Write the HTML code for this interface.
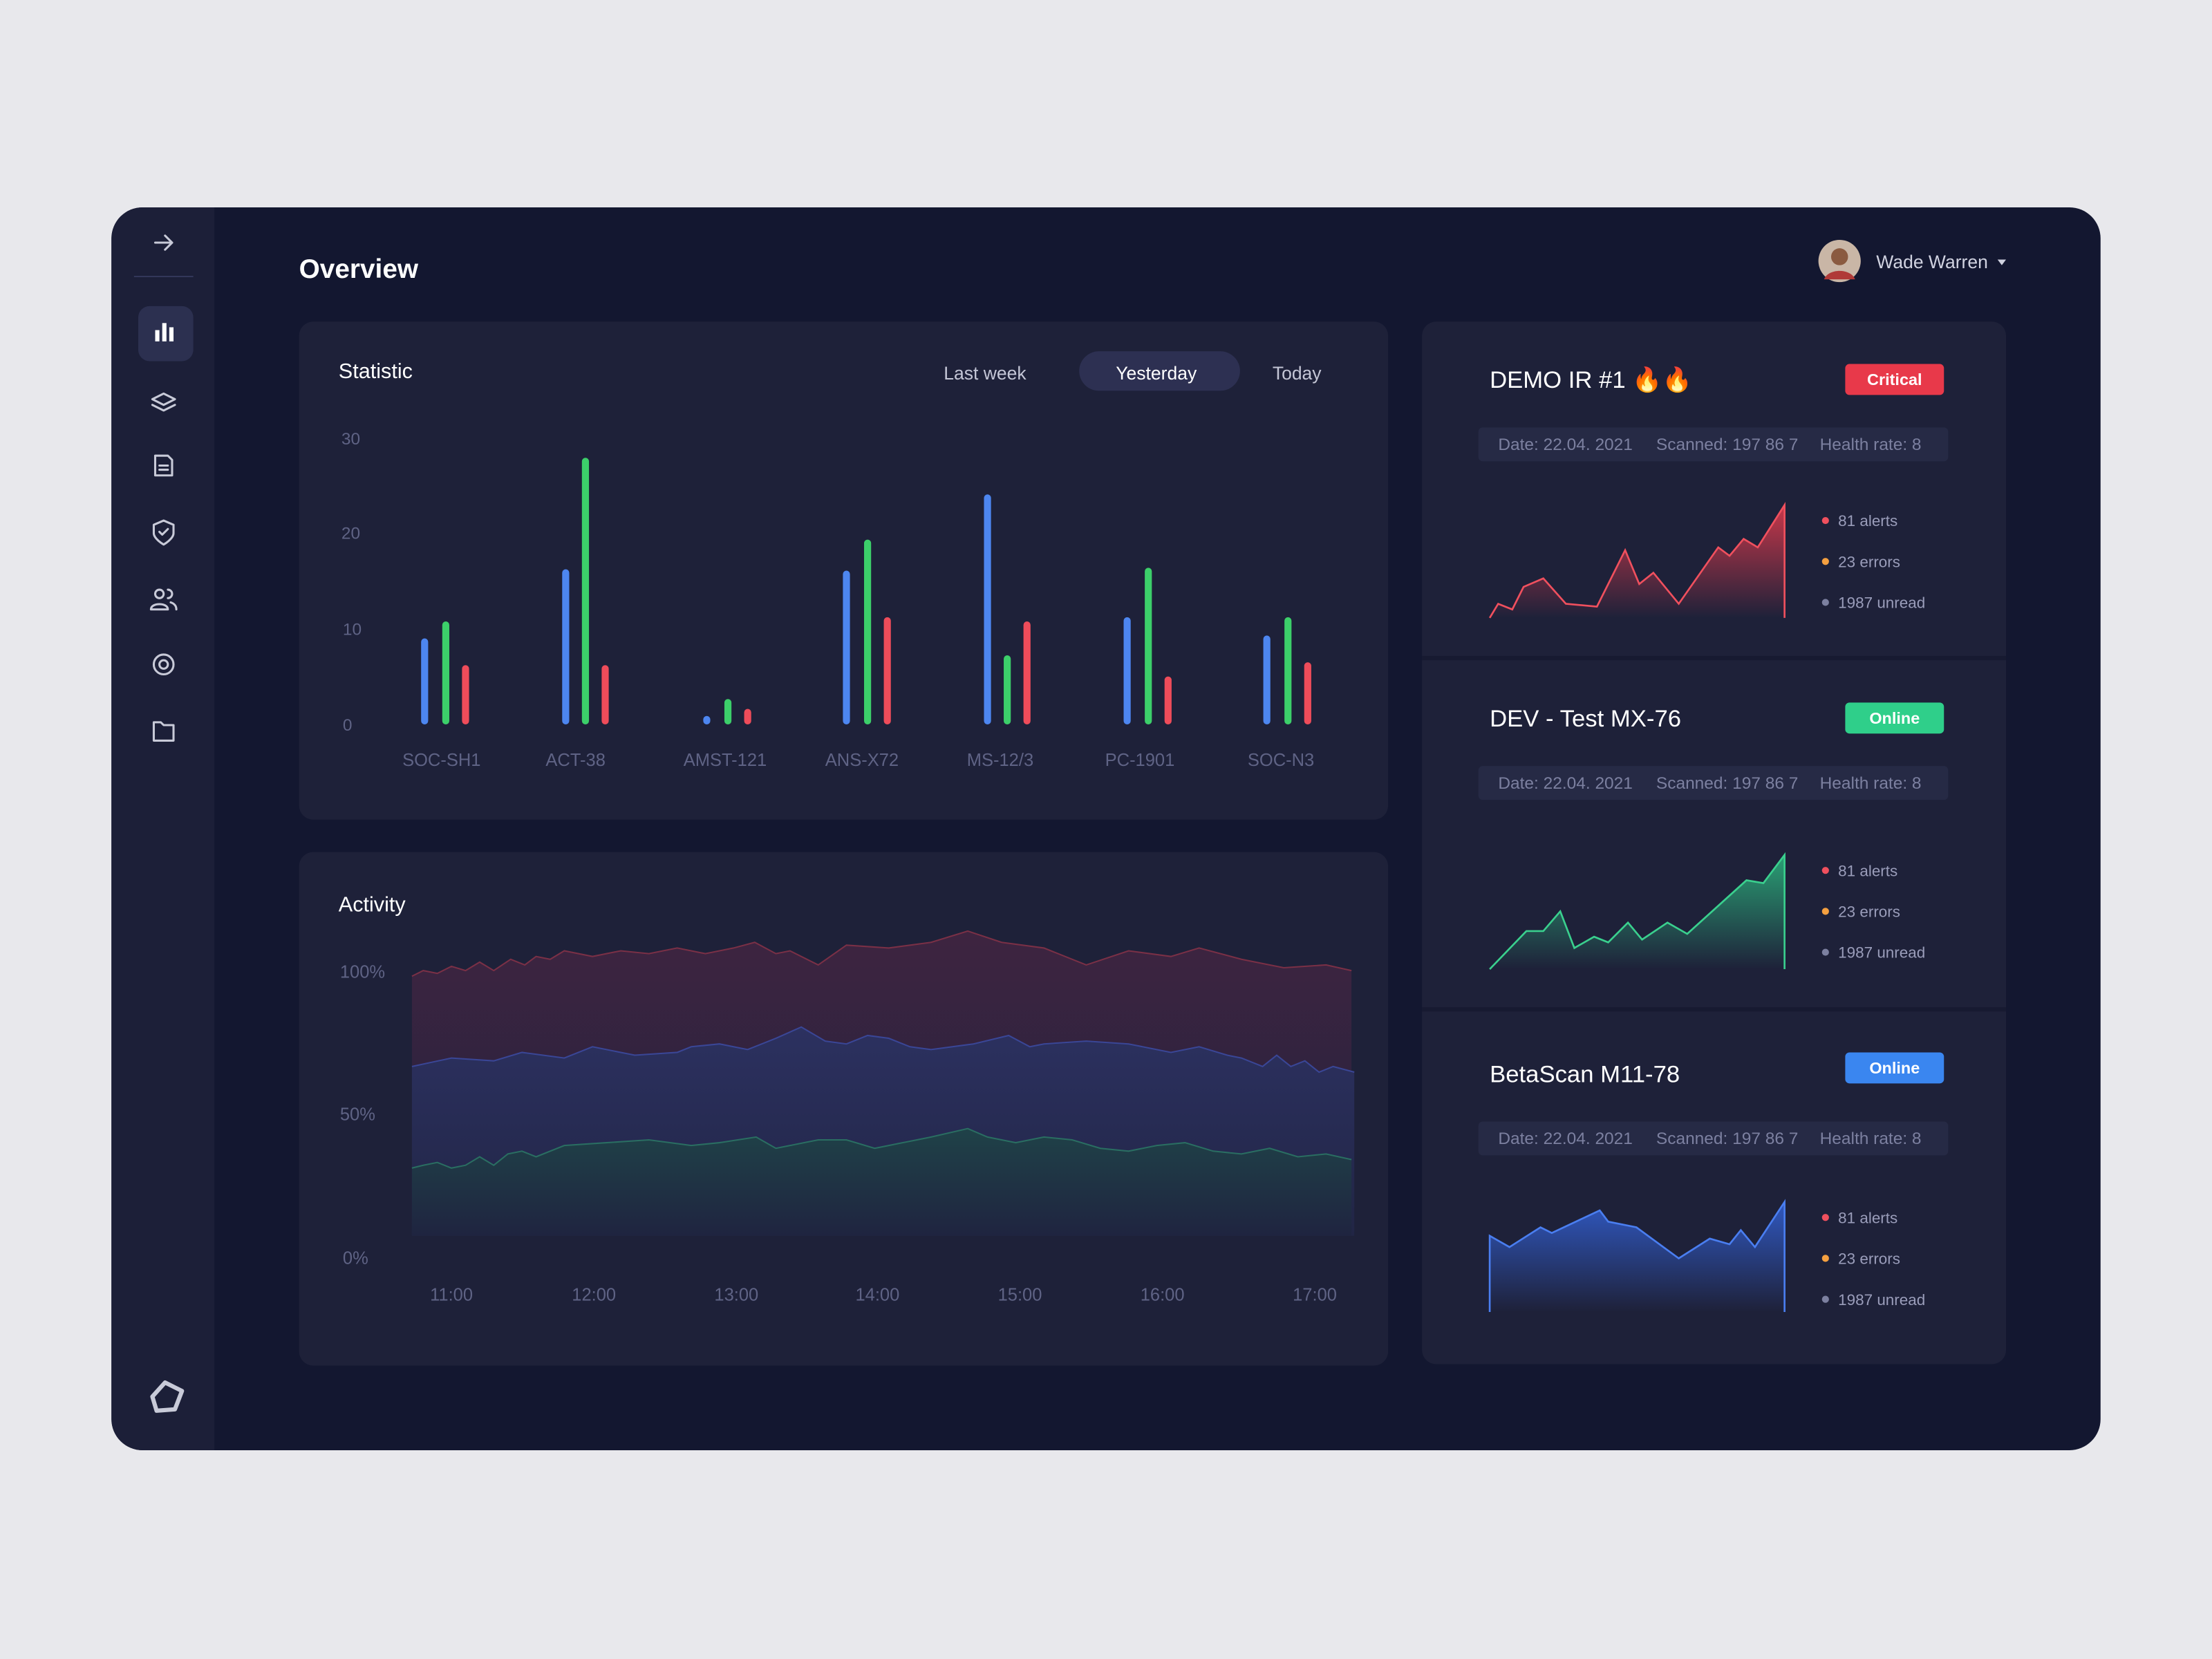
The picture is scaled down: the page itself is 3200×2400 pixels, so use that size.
<!DOCTYPE html>
<html><head><meta charset="utf-8"><style>
html,body{margin:0;padding:0;background:#e8e8ec;}
svg{display:block;font-family:"Liberation Sans",sans-serif;}
</style></head><body>
<svg width="3200" height="2400" viewBox="0 0 1568 1176" xmlns="http://www.w3.org/2000/svg">
<defs>
<linearGradient id="gr" x1="0" y1="0" x2="0" y2="1"><stop offset="0" stop-color="#3e2440"/><stop offset="1" stop-color="#22223e"/></linearGradient>
<linearGradient id="gb" x1="0" y1="0" x2="0" y2="1"><stop offset="0" stop-color="#2c3160"/><stop offset="1" stop-color="#212545"/></linearGradient>
<linearGradient id="gg" x1="0" y1="0" x2="0" y2="1"><stop offset="0" stop-color="#1f4248"/><stop offset="1" stop-color="#1f2440"/></linearGradient>
<linearGradient id="sr" x1="0" y1="0" x2="0" y2="1"><stop offset="0" stop-color="#c8384a"/><stop offset="1" stop-color="#1e2139"/></linearGradient>
<linearGradient id="sg" x1="0" y1="0" x2="0" y2="1"><stop offset="0" stop-color="#2aa074"/><stop offset="1" stop-color="#1e2139"/></linearGradient>
<linearGradient id="sb" x1="0" y1="0" x2="0" y2="1"><stop offset="0" stop-color="#3058c0"/><stop offset="1" stop-color="#1e2139"/></linearGradient>
</defs>
<rect width="1568" height="1176" fill="#e8e8ec"/>
<rect x="79" y="147" width="1410" height="881" rx="22" fill="#131730"/>
<path d="M101 147 H152 V1028 H101 A22 22 0 0 1 79 1006 V169 A22 22 0 0 1 101 147Z" fill="#1c1f38"/>
<g stroke="#c8cad8" stroke-width="1.5" fill="none" stroke-linecap="round" stroke-linejoin="round">
<path d="M110 172 H122 M117 167 L122 172 L117 177"/>
<path d="M108 283 L116 279 L124 283 L116 287Z M108 287 L116 291 L124 287"/>
<path d="M110 323 H119 L122 326 V337 H110Z M113 330 H119 M113 333 H119"/>
<path d="M116 369 L123 372 V378 C123 382 116 386 116 386 C116 386 109 382 109 378 V372Z M113 377 L115 379 L119 375"/>
<circle cx="113" cy="421" r="3"/><path d="M107 432 C107 427 119 427 119 432Z M119 418 A3 3 0 0 1 119 424 M121 427 C124 428 125 430 125 432"/>
<circle cx="116" cy="471" r="3"/><circle cx="116" cy="471" r="7"/>
<path d="M109 512 H114 L116 514 H123 V525 H109Z"/>
<path d="M108 990 L117 980 L129 986 L124 999 L111 1000Z" stroke-width="3"/>
</g>
<line x1="95" y1="196" x2="137" y2="196" stroke="#33375a"/>
<rect x="98" y="217" width="39" height="39" rx="8" fill="#2c3050"/>
<rect x="110" y="234" width="3" height="8" fill="#fff"/><rect x="115" y="229" width="3" height="13" fill="#fff"/><rect x="120" y="232" width="3" height="10" fill="#fff"/>
<text x="212" y="197" font-size="19" font-weight="bold" fill="#fff">Overview</text>
<circle cx="1304" cy="185" r="15" fill="#c9b6a6"/><circle cx="1304" cy="182" r="6" fill="#8a5a40"/><path d="M1293 198 C1296 190 1312 190 1315 198Z" fill="#b03a38"/>
<text x="1330" y="190" font-size="13" fill="#d0d2e0">Wade Warren</text>
<path d="M1416 184 L1422 184 L1419 188Z" fill="#d0d2e0"/>
<rect x="212" y="228" width="772" height="353" rx="10" fill="#1e2139"/>
<text x="240" y="268" font-size="15" fill="#fff">Statistic</text>
<rect x="765" y="249" width="114" height="28" rx="14" fill="#2d3052"/>
<g font-size="13" fill="#c4c6d6"><text x="669" y="269">Last week</text><text x="791" y="269" fill="#fff">Yesterday</text><text x="902" y="269">Today</text></g>
<g font-size="12" fill="#5f6385"><text x="242" y="315">30</text><text x="242" y="382">20</text><text x="243" y="450">10</text><text x="243" y="518">0</text></g>
<g stroke-width="5" stroke-linecap="round">
<g stroke="#4d86f0"><line x1="301" y1="455" x2="301" y2="511"/><line x1="401" y1="406" x2="401" y2="511"/><line x1="501" y1="510" x2="501" y2="511"/><line x1="600" y1="407" x2="600" y2="511"/><line x1="700" y1="353" x2="700" y2="511"/><line x1="799" y1="440" x2="799" y2="511"/><line x1="898" y1="453" x2="898" y2="511"/></g>
<g stroke="#3ccf6a"><line x1="316" y1="443" x2="316" y2="511"/><line x1="415" y1="327" x2="415" y2="511"/><line x1="516" y1="498" x2="516" y2="511"/><line x1="615" y1="385" x2="615" y2="511"/><line x1="714" y1="467" x2="714" y2="511"/><line x1="814" y1="405" x2="814" y2="511"/><line x1="913" y1="440" x2="913" y2="511"/></g>
<g stroke="#ee4c5a"><line x1="330" y1="474" x2="330" y2="511"/><line x1="429" y1="474" x2="429" y2="511"/><line x1="530" y1="505" x2="530" y2="511"/><line x1="629" y1="440" x2="629" y2="511"/><line x1="728" y1="443" x2="728" y2="511"/><line x1="828" y1="482" x2="828" y2="511"/><line x1="927" y1="472" x2="927" y2="511"/></g>
</g>
<g font-size="12.5" fill="#5f6385" text-anchor="middle"><text x="313" y="543">SOC-SH1</text><text x="408" y="543">ACT-38</text><text x="514" y="543">AMST-121</text><text x="611" y="543">ANS-X72</text><text x="709" y="543">MS-12/3</text><text x="808" y="543">PC-1901</text><text x="908" y="543">SOC-N3</text></g>
<rect x="212" y="604" width="772" height="364" rx="10" fill="#1e2139"/>
<text x="240" y="646" font-size="15" fill="#fff">Activity</text>
<g id="act">
<path d="M292 692 L300 688 310 690 320 685 330 688 340 682 350 688 362 680 372 684 380 678 390 680 400 674 420 678 440 674 460 676 480 672 500 676 520 672 535 668 550 676 560 674 580 684 600 670 630 672 660 668 686 660 710 668 740 672 770 684 800 674 830 678 850 672 880 680 910 686 940 684 958 688 L958 876 L292 876Z" fill="url(#gr)"/>
<path d="M292 756 L320 750 350 752 370 746 400 750 420 742 450 748 480 746 490 742 510 740 530 744 550 736 568 728 585 738 600 740 615 734 630 736 645 742 660 744 690 740 715 734 730 742 740 740 770 738 800 740 830 746 850 742 870 748 880 750 895 756 905 748 915 756 925 752 935 760 945 756 960 760 L960 876 L292 876Z" fill="url(#gb)"/>
<path d="M292 828 L300 826 310 824 320 828 330 826 340 820 350 826 360 818 370 816 380 820 400 812 430 810 460 808 490 812 510 810 536 806 550 814 560 812 580 808 600 808 620 814 640 810 660 806 686 800 700 806 720 810 740 806 760 808 780 814 800 816 820 812 840 810 860 816 880 818 900 814 920 820 940 818 958 822 L958 876 L292 876Z" fill="url(#gg)"/>
<g fill="none" stroke-width="1">
<path d="M292 692 L300 688 310 690 320 685 330 688 340 682 350 688 362 680 372 684 380 678 390 680 400 674 420 678 440 674 460 676 480 672 500 676 520 672 535 668 550 676 560 674 580 684 600 670 630 672 660 668 686 660 710 668 740 672 770 684 800 674 830 678 850 672 880 680 910 686 940 684 958 688" stroke="#7a3046"/>
<path d="M292 756 L320 750 350 752 370 746 400 750 420 742 450 748 480 746 490 742 510 740 530 744 550 736 568 728 585 738 600 740 615 734 630 736 645 742 660 744 690 740 715 734 730 742 740 740 770 738 800 740 830 746 850 742 870 748 880 750 895 756 905 748 915 756 925 752 935 760 945 756 960 760" stroke="#3a4696"/>
<path d="M292 828 L300 826 310 824 320 828 330 826 340 820 350 826 360 818 370 816 380 820 400 812 430 810 460 808 490 812 510 810 536 806 550 814 560 812 580 808 600 808 620 814 640 810 660 806 686 800 700 806 720 810 740 806 760 808 780 814 800 816 820 812 840 810 860 816 880 818 900 814 920 820 940 818 958 822" stroke="#2a6e62"/>
</g>
</g>
<g font-size="12.5" fill="#5f6385"><text x="241" y="693">100%</text><text x="241" y="794">50%</text><text x="243" y="896">0%</text></g>
<g font-size="12.5" fill="#5f6385" text-anchor="middle"><text x="320" y="922">11:00</text><text x="421" y="922">12:00</text><text x="522" y="922">13:00</text><text x="622" y="922">14:00</text><text x="723" y="922">15:00</text><text x="824" y="922">16:00</text><text x="932" y="922">17:00</text></g>
<rect x="1008" y="228" width="414" height="739" rx="10" fill="#1e2139"/>
<rect x="1008" y="465" width="414" height="3" fill="#171a31"/>
<rect x="1008" y="714" width="414" height="3" fill="#171a31"/>
<g font-size="17" fill="#fff">
<text x="1056" y="275">DEMO IR #1 🔥🔥</text>
<text x="1056" y="515">DEV - Test MX-76</text>
<text x="1056" y="767">BetaScan M11-78</text>
</g>
<rect x="1308" y="258" width="70" height="22" rx="3" fill="#e8394a"/><text x="1343" y="273" font-size="11.5" font-weight="bold" fill="#fff" text-anchor="middle">Critical</text>
<rect x="1308" y="498" width="70" height="22" rx="3" fill="#2fcf8a"/><text x="1343" y="513" font-size="11.5" font-weight="bold" fill="#fff" text-anchor="middle">Online</text>
<rect x="1308" y="746" width="70" height="22" rx="3" fill="#3a86f0"/><text x="1343" y="761" font-size="11.5" font-weight="bold" fill="#fff" text-anchor="middle">Online</text>
<g fill="#262a45"><rect x="1048" y="303" width="333" height="24" rx="3"/><rect x="1048" y="543" width="333" height="24" rx="3"/><rect x="1048" y="795" width="333" height="24" rx="3"/></g>
<g font-size="12" fill="#7c80a0">
<text x="1062" y="319">Date: 22.04. 2021</text><text x="1174" y="319">Scanned: 197 86 7</text><text x="1290" y="319">Health rate: 8</text>
<text x="1062" y="559">Date: 22.04. 2021</text><text x="1174" y="559">Scanned: 197 86 7</text><text x="1290" y="559">Health rate: 8</text>
<text x="1062" y="811">Date: 22.04. 2021</text><text x="1174" y="811">Scanned: 197 86 7</text><text x="1290" y="811">Health rate: 8</text>
</g>
<path d="M1056 438 L1062 428 1072 432 1080 416 1094 410 1110 428 1132 430 1152 390 1162 414 1172 406 1190 428 1218 388 1226 394 1236 382 1246 388 1265 358 L1265 438Z" fill="url(#sr)"/>
<path d="M1056 438 L1062 428 1072 432 1080 416 1094 410 1110 428 1132 430 1152 390 1162 414 1172 406 1190 428 1218 388 1226 394 1236 382 1246 388 1265 358 L1265 438" fill="none" stroke="#f0505e" stroke-width="1.3"/>
<path d="M1056 687 L1082 660 1094 660 1106 646 1116 672 1130 664 1140 668 1154 654 1164 666 1182 654 1196 662 1238 624 1250 626 1265 606 L1265 687Z" fill="url(#sg)"/>
<path d="M1056 687 L1082 660 1094 660 1106 646 1116 672 1130 664 1140 668 1154 654 1164 666 1182 654 1196 662 1238 624 1250 626 1265 606 L1265 687" fill="none" stroke="#3ad08e" stroke-width="1.3"/>
<path d="M1056 876 L1070 884 1092 870 1100 874 1134 858 1140 866 1160 870 1190 892 1212 878 1226 882 1234 872 1244 884 1265 852 L1265 930 L1056 930Z" fill="url(#sb)"/>
<path d="M1056 930 L1056 876 1070 884 1092 870 1100 874 1134 858 1140 866 1160 870 1190 892 1212 878 1226 882 1234 872 1244 884 1265 852 L1265 930" fill="none" stroke="#4a7ef0" stroke-width="1.3"/>
<g font-size="11" fill="#9a9dba">
<circle cx="1294" cy="369" r="2.5" fill="#f0505e"/><text x="1303" y="373">81 alerts</text>
<circle cx="1294" cy="398" r="2.5" fill="#f5a040"/><text x="1303" y="402">23 errors</text>
<circle cx="1294" cy="427" r="2.5" fill="#7c80a0"/><text x="1303" y="431">1987 unread</text>
<circle cx="1294" cy="617" r="2.5" fill="#f0505e"/><text x="1303" y="621">81 alerts</text>
<circle cx="1294" cy="646" r="2.5" fill="#f5a040"/><text x="1303" y="650">23 errors</text>
<circle cx="1294" cy="675" r="2.5" fill="#7c80a0"/><text x="1303" y="679">1987 unread</text>
<circle cx="1294" cy="863" r="2.5" fill="#f0505e"/><text x="1303" y="867">81 alerts</text>
<circle cx="1294" cy="892" r="2.5" fill="#f5a040"/><text x="1303" y="896">23 errors</text>
<circle cx="1294" cy="921" r="2.5" fill="#7c80a0"/><text x="1303" y="925">1987 unread</text>
</g>
</svg>
</body></html>
